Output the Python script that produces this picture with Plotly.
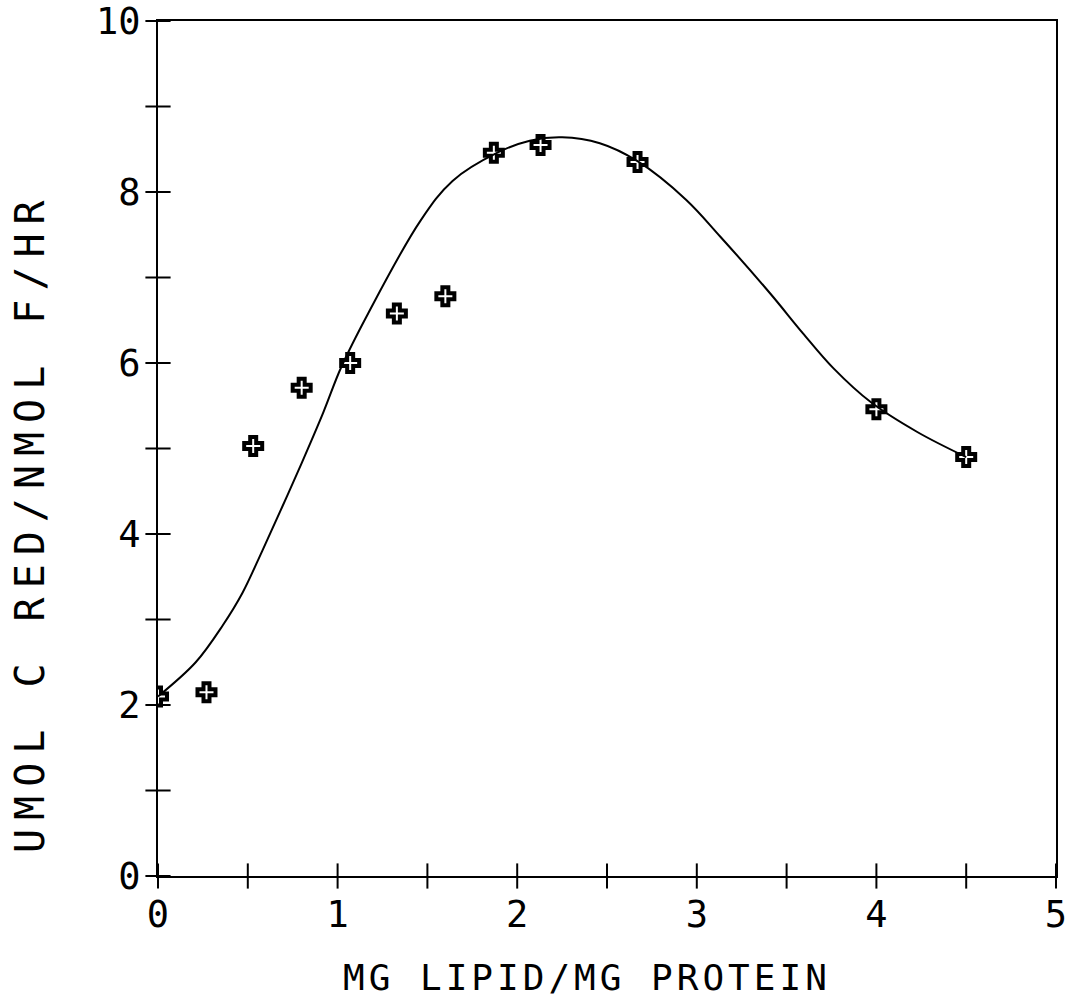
import plotly.graph_objects as go

# measured points
x_pts = [0.0, 0.27, 0.53, 0.80, 1.07, 1.33, 1.60, 1.87, 2.13, 2.67, 4.0, 4.5]
y_pts = [2.10, 2.15, 5.03, 5.71, 6.00, 6.58, 6.78, 8.46, 8.55, 8.35, 5.46, 4.90]

# fitted smooth curve
x_fit = [0.0, 0.21, 0.36, 0.47, 0.58, 0.69, 0.80, 0.92, 1.02, 1.17, 1.46, 1.64,
         1.89, 2.07, 2.25, 2.46, 2.67, 2.94, 3.13, 3.41, 3.59, 3.76, 3.97, 4.23, 4.5]
y_fit = [2.10, 2.50, 2.93, 3.31, 3.80, 4.31, 4.83, 5.42, 5.95, 6.58, 7.66, 8.13,
         8.46, 8.60, 8.64, 8.57, 8.36, 7.91, 7.48, 6.81, 6.35, 5.94, 5.54, 5.19, 4.90]

x_ticks = [0, 1, 2, 3, 4, 5]
y_ticks = [0, 2, 4, 6, 8, 10]
x_minor = [0.5, 1.5, 2.5, 3.5, 4.5]
y_minor = [1, 3, 5, 7, 9]

FONT = "DejaVu Sans Mono"

fig = go.Figure()
fig.add_trace(go.Scatter(x=x_fit, y=y_fit, mode="lines",
                         line=dict(color="black", width=2, shape="spline", smoothing=1.0),
                         hoverinfo="skip", showlegend=False))
fig.add_trace(go.Scatter(x=x_pts, y=y_pts, mode="markers",
                         marker=dict(symbol="cross-open", size=15, color="black",
                                     line=dict(color="black", width=4)),
                         showlegend=False))

# crossing tick marks (plotter style) centred on the axes
xt_all = x_ticks + x_minor
yt_all = y_ticks + y_minor
fig.add_trace(go.Scatter(x=xt_all, y=[y_ticks[0]] * len(xt_all), mode="markers",
                         marker=dict(symbol="line-ns-open", size=18, color="black",
                                     line=dict(color="black", width=2)),
                         cliponaxis=False, showlegend=False, hoverinfo="skip"))
fig.add_trace(go.Scatter(x=[x_ticks[0]] * len(yt_all), y=yt_all, mode="markers",
                         marker=dict(symbol="line-ew-open", size=18, color="black",
                                     line=dict(color="black", width=2)),
                         cliponaxis=False, showlegend=False, hoverinfo="skip"))

axis_common = dict(showgrid=False, zeroline=False, color="black", ticks="",
                   showline=True, linewidth=2, linecolor="black", mirror=True,
                   automargin=False, ticklabeloverflow="allow")

fig.update_layout(
    template="none",
    width=1072, height=998,
    margin=dict(l=158, r=16, t=21, b=122),
    paper_bgcolor="white", plot_bgcolor="white",
    font=dict(family=FONT, color="black", size=37),
    showlegend=False,
    xaxis=dict(range=[0, 5], tickvals=x_ticks, ticktext=[str(v) for v in x_ticks],
               ticklabelstandoff=5, **axis_common),
    yaxis=dict(range=[0, 10], tickvals=y_ticks, ticktext=[str(v) for v in y_ticks],
               ticklabelstandoff=8, **axis_common),
)

fig.add_annotation(text='<span style="letter-spacing:4px">MG LIPID/MG PROTEIN</span>',
                   xref="paper", yref="paper", x=(587 - 158) / 898, y=-(978 - 876) / 855,
                   xanchor="center", yanchor="middle", showarrow=False,
                   font=dict(family=FONT, size=36, color="black"))
fig.add_annotation(text='<span style="letter-spacing:9px">UMOL C RED/NMOL F/HR</span>',
                   xref="paper", yref="paper", x=-(158 - 30) / 898, y=(876 - 522) / 855,
                   xanchor="center", yanchor="middle", showarrow=False, textangle=-90,
                   font=dict(family=FONT, size=40, color="black"))

fig.write_html("out.html")
